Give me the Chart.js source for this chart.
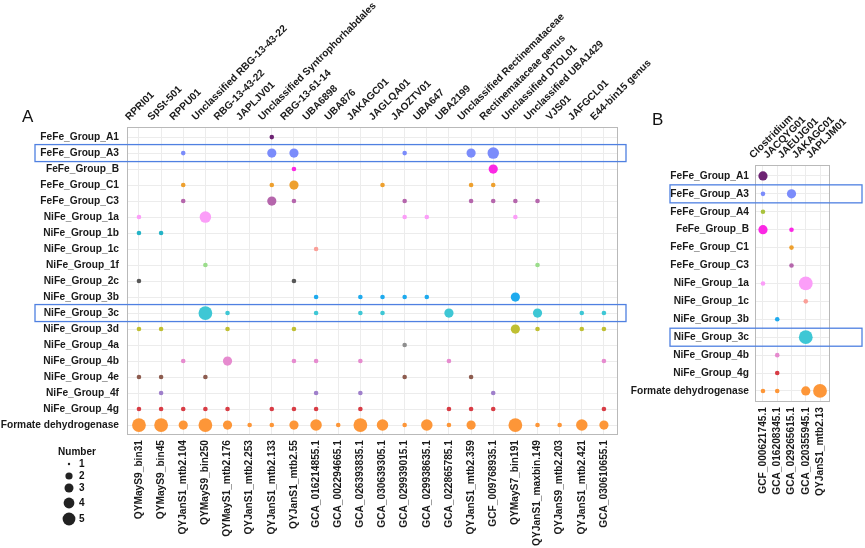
<!DOCTYPE html>
<html>
<head>
<meta charset="utf-8">
<script src="https://cdn.jsdelivr.net/npm/chart.js@4.4.1/dist/chart.umd.min.js"></script>
<style>
  html, body { margin: 0; padding: 0; background: #fff; }
  #wrap { position: relative; width: 865px; height: 548px; overflow: hidden; }
  #chartA { position: absolute; left: 0; top: 0; }
  #chartB { position: absolute; left: 600px; top: 0; }
</style>
</head>
<body>
<div id="wrap">
  <canvas id="chartA" width="690" height="548"></canvas>
  <canvas id="chartB" width="265" height="548"></canvas>
</div>
<script>
// ---- Panel A data ----
const rowsA = ["FeFe_Group_A1", "FeFe_Group_A3", "FeFe_Group_B", "FeFe_Group_C1", "FeFe_Group_C3",
    "NiFe_Group_1a", "NiFe_Group_1b", "NiFe_Group_1c", "NiFe_Group_1f", "NiFe_Group_2c",
    "NiFe_Group_3b", "NiFe_Group_3c", "NiFe_Group_3d", "NiFe_Group_4a", "NiFe_Group_4b",
    "NiFe_Group_4e", "NiFe_Group_4f", "NiFe_Group_4g", "Formate dehydrogenase"];

const genusA = ["RPRI01", "SpSt-501", "RPPU01", "Unclassified RBG-13-43-22", "RBG-13-43-22", "JAPLJV01",
    "Unclassified Syntrophorhabdales", "RBG-13-61-14", "UBA6898", "UBA876", "JAKAGC01", "JAGLQA01",
    "JAOZTV01", "UBA647", "UBA2199", "Unclassified Rectinemataceae", "Rectinemataceae genus",
    "Unclassified DTOL01", "Unclassified UBA1429", "VJS01", "JAFGCL01", "E44-bin15 genus"];

const genomesA = ["QYMayS9_bin31", "QYMayS9_bin45", "QYJanS1_mtb2.104", "QYMayS9_bin250", "QYMayS1_mtb2.176",
    "QYJanS1_mtb2.253", "QYJanS1_mtb2.133", "QYJanS1_mtb2.55", "GCA_016214855.1", "GCA_002294665.1",
    "GCA_026393835.1", "GCA_030639305.1", "GCA_029939015.1", "GCA_029938635.1", "GCA_022865785.1",
    "QYJanS1_mtb2.359", "GCF_009768935.1", "QYMayS7_bin191", "QYJanS1_maxbin.149", "QYJanS9_mtb2.203",
    "QYJanS1_mtb2.421", "GCA_030610655.1"];

// counts per row (one value per genome column, 0 = none)
const countsA = [
    [0,0,0,0,0,0,1,0,0,0,0,0,0,0,0,0,0,0,0,0,0,0],
    [0,0,1,0,0,0,3,3,0,0,0,0,1,0,0,3,4,0,0,0,0,0],
    [0,0,0,0,0,0,0,1,0,0,0,0,0,0,0,0,3,0,0,0,0,0],
    [0,0,1,0,0,0,1,3,0,0,0,1,0,0,0,1,1,0,0,0,0,0],
    [0,0,1,0,0,0,3,1,0,0,0,0,1,0,0,1,1,1,1,0,0,0],
    [1,0,0,4,0,0,0,0,0,0,0,0,1,1,0,0,0,1,0,0,0,0],
    [1,1,0,0,0,0,0,0,0,0,0,0,0,0,0,0,0,0,0,0,0,0],
    [0,0,0,0,0,0,0,0,1,0,0,0,0,0,0,0,0,0,0,0,0,0],
    [0,0,0,1,0,0,0,0,0,0,0,0,0,0,0,0,0,0,1,0,0,0],
    [1,0,0,0,0,0,0,1,0,0,0,0,0,0,0,0,0,0,0,0,0,0],
    [0,0,0,0,0,0,0,0,1,0,1,1,1,1,0,0,0,3,0,0,0,0],
    [0,0,0,5,1,0,0,0,1,0,1,1,0,0,3,0,0,0,3,0,1,1],
    [1,1,0,0,1,0,0,1,0,0,0,0,0,0,0,0,0,3,1,0,1,1],
    [0,0,0,0,0,0,0,0,0,0,0,0,1,0,0,0,0,0,0,0,0,0],
    [0,0,1,0,3,0,0,1,1,0,1,0,0,0,1,0,0,0,0,0,0,1],
    [1,1,0,1,0,0,0,0,0,0,0,0,1,0,0,1,0,0,0,0,0,0],
    [0,1,0,0,0,0,0,0,1,0,1,0,0,0,0,0,1,0,0,0,0,0],
    [1,1,1,1,1,0,1,1,1,0,1,0,0,0,1,1,1,0,0,0,0,1],
    [5,5,3,5,3,1,1,3,4,1,5,4,1,4,1,3,0,5,1,1,4,3]
];

// ---- Panel B data ----
const rowsB = ["FeFe_Group_A1", "FeFe_Group_A3", "FeFe_Group_A4", "FeFe_Group_B", "FeFe_Group_C1",
    "FeFe_Group_C3", "NiFe_Group_1a", "NiFe_Group_1c", "NiFe_Group_3b", "NiFe_Group_3c",
    "NiFe_Group_4b", "NiFe_Group_4g", "Formate dehydrogenase"];
const genusB = ["Clostridium", "JACQYG01", "JAEUJG01", "JAKAGC01", "JAPLJM01"];
const genomesB = ["GCF_000621745.1", "GCA_016208345.1", "GCA_029265615.1", "GCA_020355945.1", "QYJanS1_mtb2.13"];
const countsB = [
    [3,0,0,0,0],
    [1,0,3,0,0],
    [1,0,0,0,0],
    [3,0,1,0,0],
    [0,0,1,0,0],
    [0,0,1,0,0],
    [1,0,0,5,0],
    [0,0,0,1,0],
    [0,1,0,0,0],
    [0,0,0,5,0],
    [0,1,0,0,0],
    [0,1,0,0,0],
    [1,1,0,3,5]
];

const legendNumbers = [1, 2, 3, 4, 5];

// colours per hydrogenase group
const groupColors = {
    "FeFe_Group_A1": "#6d2373", "FeFe_Group_A3": "#7b8cfb", "FeFe_Group_A4": "#a9c23c",
    "FeFe_Group_B": "#fb28e4", "FeFe_Group_C1": "#eea02e", "FeFe_Group_C3": "#b566ac",
    "NiFe_Group_1a": "#fb9ef8", "NiFe_Group_1b": "#24b3c6", "NiFe_Group_1c": "#fa9f98",
    "NiFe_Group_1f": "#9bdd8b", "NiFe_Group_2c": "#575757", "NiFe_Group_3b": "#1eaaee",
    "NiFe_Group_3c": "#3ec7d5", "NiFe_Group_3d": "#bfbf32", "NiFe_Group_4a": "#8e8e8e",
    "NiFe_Group_4b": "#e68bcf", "NiFe_Group_4e": "#8d5c4f", "NiFe_Group_4f": "#9f7fcb",
    "NiFe_Group_4g": "#d83c45", "Formate dehydrogenase": "#fd9638"
};

const radiusFor = v => 2.3 + (v - 1) * 1.15;
const FONT = "'Liberation Sans', Arial, sans-serif";

function buildDatasets(rows, counts) {
    return rows.map((name, ri) => ({
        label: name,
        data: counts[ri].map((v, ci) => v > 0 ? { x: ci, y: ri, r: radiusFor(v) } : null).filter(Boolean),
        backgroundColor: groupColors[name],
        borderWidth: 0
    }));
}

function intTicks(n) {
    return scale => { scale.ticks = Array.from({ length: n }, (_, i) => ({ value: i })); };
}

function fixSize(prop, size) {
    return scale => {
        scale[prop] = size;
        scale.paddingLeft = 0; scale.paddingRight = 0;
        scale.paddingTop = 0; scale.paddingBottom = 0;
    };
}

const boxPlugin = {
    id: 'boxes',
    afterDraw(chart, args, opts) {
        const { ctx, chartArea: a, scales } = chart;
        ctx.save();
        // panel border
        ctx.strokeStyle = '#b9b9b9';
        ctx.lineWidth = 1;
        ctx.strokeRect(a.left + 0.5, a.top + 0.5, a.right - a.left, a.bottom - a.top);
        // highlight boxes around selected rows
        ctx.strokeStyle = '#4f80e1';
        ctx.lineWidth = 1.3;
        opts.rows.forEach(r => {
            const y = scales.y.getPixelForValue(r);
            ctx.strokeRect(opts.x1, y - opts.h, opts.x2 - opts.x1, opts.h * 2);
        });
        // panel letter
        ctx.fillStyle = '#111';
        ctx.font = "17px " + FONT;
        ctx.textAlign = 'left';
        ctx.textBaseline = 'alphabetic';
        ctx.fillText(opts.letter, opts.letterX, opts.letterY);
        ctx.restore();
        if (opts.legend) drawLegend(ctx);
    }
};

function drawLegend(ctx) {
    const ys = [464, 476, 488, 503, 519];
    const rs = [1.2, 3.6, 4.5, 5.4, 6.4];
    ctx.save();
    ctx.fillStyle = '#111';
    ctx.font = "bold 10px " + FONT;
    ctx.textAlign = 'center';
    ctx.textBaseline = 'middle';
    ctx.fillText('Number', 77, 452);
    legendNumbers.forEach((n, i) => {
        ctx.fillStyle = '#222';
        ctx.beginPath();
        ctx.arc(69, ys[i], rs[i], 0, Math.PI * 2);
        ctx.fill();
        ctx.fillStyle = '#111';
        ctx.textAlign = 'left';
        ctx.fillText(String(n), 79, ys[i]);
    });
    ctx.restore();
}

function makeChart(id, cfg) {
    const nCols = cfg.top.length;
    const tickFont = { family: FONT, size: 10.2, weight: 'bold' };
    new Chart(document.getElementById(id), {
        type: 'bubble',
        data: { datasets: buildDatasets(cfg.rows, cfg.counts) },
        options: {
            responsive: false,
            animation: false,
            events: [],
            layout: { padding: { left: 0, top: 0, right: cfg.padRight, bottom: 0 } },
            plugins: { legend: { display: false }, tooltip: { enabled: false }, boxes: cfg.boxes },
            scales: {
                x: {
                    type: 'linear', position: 'bottom', min: cfg.xMin, max: cfg.xMax,
                    afterBuildTicks: intTicks(nCols),
                    afterFit: fixSize('height', cfg.bottomH),
                    grid: { color: '#ececec', drawTicks: false },
                    border: { display: false },
                    ticks: {
                        autoSkip: false, minRotation: 90, maxRotation: 90, padding: 6,
                        color: '#1a1a1a', font: tickFont,
                        callback: v => cfg.bottom[Math.round(v)]
                    }
                },
                xTop: {
                    type: 'linear', position: 'top', min: cfg.xMin, max: cfg.xMax,
                    afterBuildTicks: intTicks(nCols),
                    afterFit: fixSize('height', cfg.topH),
                    grid: { display: false, drawTicks: false },
                    border: { display: false },
                    ticks: {
                        autoSkip: false, minRotation: 45, maxRotation: 45, padding: 4, labelOffset: -3,
                        color: '#1a1a1a', font: tickFont,
                        callback: v => cfg.top[Math.round(v)]
                    }
                },
                y: {
                    type: 'linear', reverse: true, min: cfg.yMin, max: cfg.yMax,
                    afterBuildTicks: intTicks(cfg.rows.length),
                    afterFit: fixSize('width', cfg.leftW),
                    grid: { color: '#ececec', drawTicks: false },
                    border: { display: false },
                    ticks: {
                        autoSkip: false, padding: cfg.yPad, color: '#1a1a1a', font: tickFont,
                        callback: v => cfg.rows[Math.round(v)]
                    }
                }
            }
        },
        plugins: [boxPlugin]
    });
}

makeChart('chartA', {
    rows: rowsA, counts: countsA, top: genusA, bottom: genomesA,
    xMin: -0.54, xMax: 21.59, yMin: -0.63, yMax: 18.56,
    leftW: 127, topH: 127, bottomH: 114, padRight: 73, yPad: 8,
    boxes: { rows: [1, 11], x1: 35, x2: 626, h: 8.5, letter: 'A', letterX: 22, letterY: 122, legend: true }
});

makeChart('chartB', {
    rows: rowsB, counts: countsB, top: genusB, bottom: genomesB,
    xMin: -0.56, xMax: 4.63, yMin: -0.61, yMax: 12.56,
    leftW: 155, topH: 165, bottomH: 147, padRight: 36, yPad: 6,
    boxes: { rows: [1, 9], x1: 70, x2: 262, h: 9, letter: 'B', letterX: 52, letterY: 125, legend: false }
});
</script>
</body>
</html>
